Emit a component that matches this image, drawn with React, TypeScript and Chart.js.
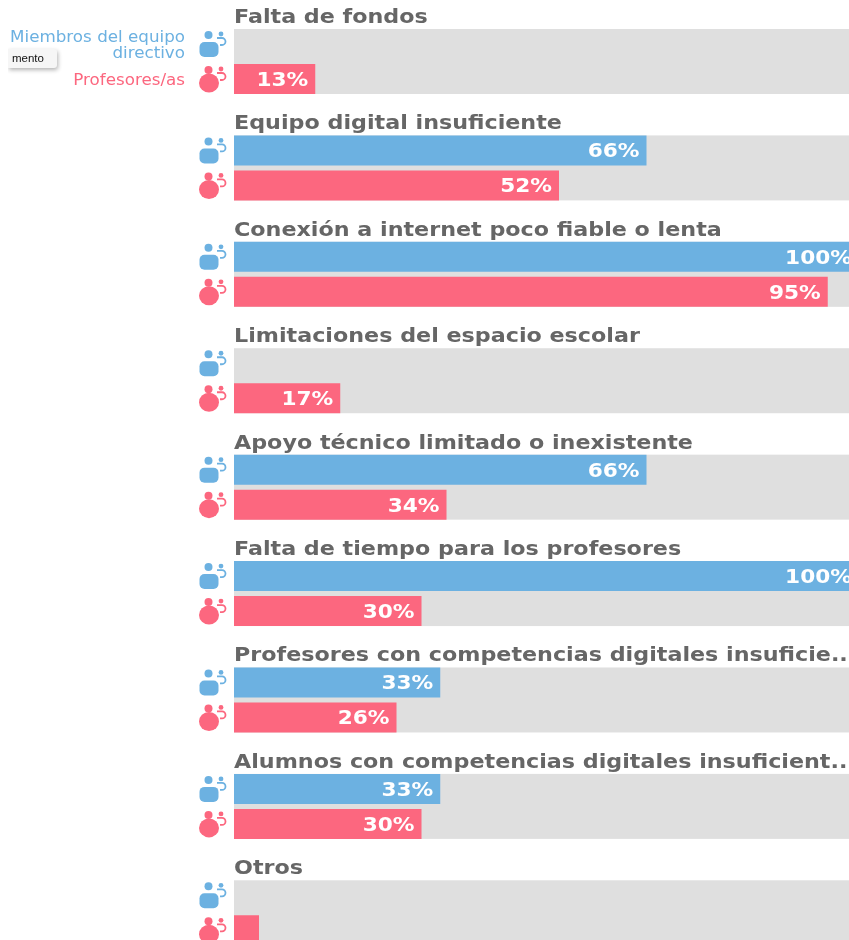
import React, { useEffect, useRef } from "react";
import { Chart, registerables } from "chart.js";

Chart.register(...registerables);

const categories = [
  "Falta de fondos",
  "Equipo digital insuficiente",
  "Conexión a internet poco fiable o lenta",
  "Limitaciones del espacio escolar",
  "Apoyo técnico limitado o inexistente",
  "Falta de tiempo para los profesores",
  "Profesores con competencias digitales insuficie...",
  "Alumnos con competencias digitales insuficient...",
  "Otros",
];
const directivos = [0, 66, 100, 0, 66, 100, 33, 33, 0];
const profesores = [13, 52, 95, 17, 34, 30, 26, 30, 4];
const track = [100, 100, 100, 100, 100, 100, 100, 100, 100];
const directivosLines = ["Miembros del equipo", "directivo"];
const profesoresLines = ["Profesores/as"];
const BLUE = "#6CB1E1";
const PINK = "#FC677F";
const GREY = "#DFDFDF";
const FONT = '"DejaVu Sans"';

function wideText(ctx: CanvasRenderingContext2D, text: string, x: number, y: number, sx: number) {
  ctx.save();
  ctx.translate(x, y);
  ctx.scale(sx, 1);
  ctx.fillText(text, 0, 0);
  ctx.restore();
}

function drawIcon(ctx: CanvasRenderingContext2D, cy: number, color: string, square: boolean) {
  ctx.save();
  ctx.fillStyle = color;
  ctx.strokeStyle = color;
  ctx.beginPath();
  ctx.arc(208.5, cy - 9, 4, 0, Math.PI * 2);
  ctx.fill();
  ctx.beginPath();
  ctx.arc(221, cy - 10, 2.4, 0, Math.PI * 2);
  ctx.fill();
  ctx.beginPath();
  if (square) ctx.roundRect(199.5, cy - 2, 19, 15, 5);
  else ctx.ellipse(209, cy + 4, 10, 9.5, 0, 0, Math.PI * 2);
  ctx.fill();
  ctx.lineWidth = 1.8;
  ctx.beginPath();
  ctx.moveTo(217, cy - 6);
  ctx.lineTo(222, cy - 6);
  ctx.arc(222, cy - 2.5, 3.5, -Math.PI / 2, Math.PI / 2);
  ctx.lineTo(220, cy + 1);
  ctx.stroke();
  ctx.restore();
}

const tracks = {
  id: "tracks",
  beforeDatasetsDraw(chart: any) {
    const { ctx, scales } = chart;
    ctx.save();
    ctx.fillStyle = GREY;
    track.forEach((v, i) => {
      const left = scales.x.getPixelForValue(0);
      const cy = scales.y.getPixelForValue(i);
      ctx.fillRect(left, cy - 32.5, scales.x.getPixelForValue(v) - left, 65);
    });
    ctx.restore();
  },
};

const overlay = {
  id: "overlay",
  afterDatasetsDraw(chart: any) {
    const { ctx } = chart;
    const blue = chart.getDatasetMeta(0).data;
    const pink = chart.getDatasetMeta(1).data;
    ctx.save();
    ctx.textBaseline = "middle";

    categories.forEach((name, i) => {
      const top = blue[i].y - 15;
      ctx.font = `bold 19px ${FONT}`;
      ctx.fillStyle = "#666666";
      ctx.textAlign = "left";
      wideText(ctx, name, chart.chartArea.left, top - 11, 1.17);

      drawIcon(ctx, blue[i].y, BLUE, true);
      drawIcon(ctx, pink[i].y, PINK, false);

      ctx.font = `bold 19px ${FONT}`;
      ctx.fillStyle = "#FFFFFF";
      ctx.textAlign = "right";
      if (directivos[i] >= 10) wideText(ctx, `${directivos[i]}%`, blue[i].x - 7, blue[i].y + 2, 1.14);
      if (profesores[i] >= 10) wideText(ctx, `${profesores[i]}%`, pink[i].x - 7, pink[i].y + 2, 1.14);
    });

    ctx.font = `15px ${FONT}`;
    ctx.textAlign = "right";
    ctx.fillStyle = BLUE;
    directivosLines.forEach((l, i) => wideText(ctx, l, 185, blue[0].y - 6 + i * 16, 1.115));
    ctx.fillStyle = PINK;
    profesoresLines.forEach((l) => wideText(ctx, l, 185, pink[0].y + 2, 1.115));
    ctx.restore();
  },
};

export default function App() {
  const ref = useRef<HTMLCanvasElement>(null);
  useEffect(() => {
    const chart = new Chart(ref.current!, {
      type: "bar",
      data: {
        labels: categories,
        datasets: [
          { label: "Miembros del equipo directivo", data: directivos, backgroundColor: BLUE, categoryPercentage: 70 / 106.4, barPercentage: 30 / 35 },
          { label: "Profesores/as", data: profesores, backgroundColor: PINK, categoryPercentage: 70 / 106.4, barPercentage: 30 / 35 },
        ],
      },
      options: {
        indexAxis: "y",
        animation: false,
        responsive: false,
        layout: { padding: { left: 234, right: 0, top: 8.3, bottom: 0 } },
        plugins: { legend: { display: false }, tooltip: { enabled: false } },
        scales: {
          x: { min: 0, max: 100, display: false },
          y: { display: false },
        },
      },
      plugins: [tracks, overlay],
    });
    return () => chart.destroy();
  }, []);
  return (
    <div style={{ position: "absolute", left: 0, top: 0, width: 849, height: 940, overflow: "hidden", background: "#fff" }}>
      <canvas ref={ref} width={859} height={966} style={{ display: "block", width: 859, height: 966, filter: "blur(0.5px)" }} />
      <div style={{ position: "absolute", left: 8, top: 49, width: 49, height: 19, background: "#f6f6f6", borderRadius: "0 3px 3px 0", boxShadow: "1px 2px 4px rgba(0,0,0,0.3)", clipPath: "inset(-8px -8px -8px 0)", font: '11.5px/19px "Liberation Sans"', color: "#111", paddingLeft: 4, boxSizing: "border-box" }}>mento</div>
    </div>
  );
}
